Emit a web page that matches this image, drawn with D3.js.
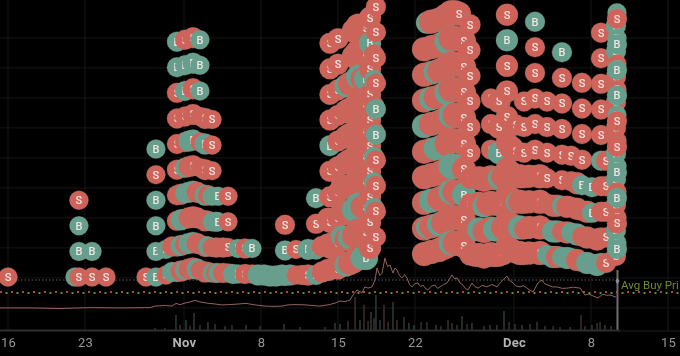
<!doctype html>
<html lang="en">
<head>
<meta charset="utf-8">
<title></title>
<script src="https://d3js.org/d3.v7.min.js"></script>
<style type="text/css">
  html, body { margin:0; padding:0; background:#000; overflow:hidden; }
  svg { display:block; filter:blur(0.35px); }
  text { font-family:Roboto, "Liberation Sans", sans-serif; }
  .axis path, .axis line { display:none; }
  .axis text { font-size:13px; fill:#969696; letter-spacing:0.3px; }
  .axis text.month { font-weight:700; fill:#b4b4b4; }
</style>
</head>
<body>
<script type="text/javascript">

  var width = 680, height = 356;

  // days counted from Oct 16
  var tickDays   = [0, 7, 16, 23, 30, 37, 46, 53, 60];
  var tickLabels = ["16", "23", "Nov", "8", "15", "22", "Dec", "8", "15"];
  var gridLevels = [97.7, 87.7, 77.7, 67.7, 57.7, 47.7, 37.7, 27.7, 17.7, 7.7];

  var avgBuyLevel = 17;
  var avgSellLevel = 13;
  var lastDay = 55.36;

  var priceDays = [-0.73,2,4.73,7.45,10.18,12.91,13.36,14.27,14.91,15.27,15.64,16.09,16.55,17,17.45,18.09,18.82,19.45,20.18,20.91,21.64,22.45,23.36,24.27,24.91,25.45,26.09,27,28.36,29.09,
    29.73,30.18,30.64,31.09,31.36,31.73,32.18,32.45,32.73,33.09,33.36,33.55,33.8,34,34.27,34.5,34.73,35,35.18,35.36,
    35.6,35.82,36.05,36.27,36.5,36.73,37,37.27,37.5,37.73,37.95,38.18,38.5,38.82,39.05,39.27,39.6,39.91,40.36,40.6,
    40.82,41.1,41.36,41.6,41.82,42.18,42.45,42.73,43.1,43.55,44,44.45,44.7,45,45.36,45.6,45.82,46.2,46.55,46.85,
    47.18,47.45,47.73,48.18,48.55,48.8,49.09,49.5,49.91,50.4,50.82,51.4,52,52.45,52.8,53.18,53.64,54.09,54.4,54.73,55.27];
  var priceValues = [7.7,7.7,7.5,7.8,7.7,7.8,8.3,8.5,8.3,9.2,8.8,9.3,9.7,10.2,9.7,9.3,9,8.7,8.8,9,9.2,8.7,8.3,8.2,8.3,8.7,8.8,8.7,8.3,8.7,
    9.3,10,9.8,10.3,12,13.7,12.7,14.7,14.3,14.7,17,21,18.5,19.3,24.3,21.5,22,19.3,21,20.3,
    18.5,17.7,18.8,17.7,15.5,14.7,15.8,16,14.8,15.3,14.2,13.7,15,15.3,14.2,14.7,15.5,16,18.7,17.4,
    17.7,16,15.3,14.1,13.7,16,14.8,14.3,15.2,14.7,15.5,14.7,15.8,17,18.3,16.8,16.3,15,14.7,15.1,
    14.3,13.6,13,16,17,15.7,15.3,14.7,14.7,14.2,14.3,14.6,14.3,12,12.3,11.7,11,12.3,11.9,12,11.3];

  var volumeDays = [13.36,14.27,15.27,15.64,16.18,16.55,16.91,17.45,18.18,18.82,19.73,20.36,21.64,22.91,25.09,26.55,28.82,29.73,30.18,30.91,31.55,32,32.36,32.73,33,33.27,33.45,33.82,34.18,34.55,35,35.36,36,36.45,36.91,37.55,38.09,38.91,39.36,40,40.36,40.82,41.27,41.73,42.18,43.27,43.82,44.45,45.09,45.55,46.09,46.73,47.45,48.09,48.82,49.55,50.18,51.09,52.09,52.45,53.09,53.55,53.82,54.27,54.82,55.36];
  var volumeValues = [3,3,16,6,11,5,18,6,9,7,5,6,6,5,7,4,4,8,7,10,34,11,26,10,19,13,36,11,26,9,29,11,14,8,6,9,9,6,5,11,8,6,15,7,8,5,6,6,20,9,7,6,7,9,5,5,4,4,16,5,6,8,9,6,5,61];
  var volumeSides = "ddududududududuuduuddudduduuddudduudduddududuuddudduddudduddudduuu";

  // one stack of markers per column, bottom to top
  var stackDays = [0,6.09,6.45,7.64,8.91,12.55,13.45,14.36,14.91,15.36,
    15.73,16.09,16.45,16.82,17.18,17.45,17.91,18.18,18.55,18.91,
    19.09,19.55,20,20.45,20.91,21.55,22.18,22.73,23.27,23.82,
    24.36,24.91,25.18,25.64,26.18,26.73,27.27,28,28.55,29.09,
    29.27,29.64,30,30.36,30.73,31.09,31.45,31.82,32.18,32.55,
    32.91,33.27,33.45,
    37.82,38.09,38.45,38.82,39.18,39.55,39.91,40.27,40.64,41,
    41.45,42,42.45,42.82,43.27,43.64,43.91,44.27,44.64,45,
    45.36,45.73,46.18,46.55,46.91,47.36,47.91,48.36,49,49.55,
    49.91,50.36,50.82,51.18,51.73,52.18,52.64,53.09,53.55,53.91,
    54.36,55.27,55.36,55.36];
  var stackBases = [18,18,18,18,18,18,18,18.67,19.67,19.67,
    20,20.33,20.67,21,20.67,20.33,19.67,19.67,19.33,19.33,
    19.33,19.33,19.33,19,19,19,19,18.67,18.67,18.33,
    18.33,18.67,18.33,18.67,18.67,18.67,18.67,18.67,19.67,20.33,
    27.67,21,20.67,23,22,22.67,23.33,25,24.33,24.33,
    27.67,41,31.33,
    25.67,26,26.33,26.67,27,27.67,28.33,29.33,29.33,29,
    28.33,25.33,25.33,25.33,24.67,25.33,26.33,25.33,25.33,26,
    28.67,27,26,26,25.33,26,26.33,26,25.33,24.67,
    24.67,24.67,24.33,24.33,23.67,23,22.67,22.33,22,22.67,
    22.67,25,29.33,27.33];
  var stackSizes = [9.5,9.5,9.5,9.5,9.5,9.5,9.5,9.5,10,10,
    10.5,10,10.5,10.5,10.5,9.5,10.5,10,9.5,10,
    9.5,10,9.5,10,9.5,10,9.5,10.5,10.5,10.5,
    10.5,10.5,10,10.5,9.5,10,10.5,10,10.5,11,
    10.5,11,10.5,11,11.5,12,12,12,11.5,12,
    11,10,10,
    12,11,12,11.5,12,12,12.5,12.5,12.5,12,
    12,10.5,11.5,12,11.5,12,10,12,11.5,12,
    11,12,10.5,12,10,11.5,10,12,10,11,
    11,10,11,10,11,10,11,10,11,10,
    10,10,9.5,10];
  var stackSides = ["S","B","SBBS","SB","S","S","BBBBSB","SB","BS","BSSSSSSSBB",
    "SBBS","BSBBBSSBBS","SBSBSB","SBSBSBSSBS","BSSS","SSSSSSSBBB","SSSBSBS","SBSS","BSBBSSS","SSB",
    "BSBB","SS","SSSS","B","BB","SS","SB","B","B","B",
    "B","B","BBS","B","SS","S","SB","BBSB","SS","SSS",
    "SSSSBSSSS","SS","SSSSSSSSSS","SBSS","BSSSSSSB","SBSSSSSS","SSBSSSSSSS","SSBSSSSBSS","BSSSSSSS","BSSSSSSBSS",
    "SSSSSSSSBS","BBBSSBS","SSSSBBSSSS",
    "SSSSSBSSS","SBSSSBSSSB","SSBSSSBSSS","SSBSBSSBSS","SBSSBSSSSS","SSSSBSSSSS","SSSSSSBSBS","BSBBSBSSSS","SSSBSSSSSS","SSSBSSSSSS",
    "SSBSSSSSS","SSSSSSSSSS","SS","SBSS","SSBS","SSSS","SSSSSSS","SBSS","SBSBBSS","SSSS",
    "SSSSSSSSBS","SSSSS","SSBSSS","SBSS","SSSSSSS","SSSS","SSSSSSSSSB","SSSS","BSSSSSS","BBS",
    "SBS","BSBSSSSSB","BSS","BBSSS","SBSS","SSSBSSSS","BSS","BSBB","BS","BSSSBSSSSS",
    "SSSSS","SBSBBSSSBB","BSSBSBSSBB","BSBBSSBBBS"];
  var stackStep = 8.53;

  var red = "#cf6259", green = "#669f8d";

  var xScale = d3.scaleLinear().domain([0,60]).range([8,668]);
  var yScale = d3.scaleLinear().domain([0,110]).range([331,1]);
  var volScale = d3.scaleLinear().domain([0,100]).range([331,231]);

  var svg = d3.select("body")
    .append("svg")
    .attr("width", width)
    .attr("height", height)
    .style("background", "#000");

  // grid
  svg.selectAll(".vgrid")
    .data(tickDays)
    .enter()
    .append("line")
    .attr("x1", d=>xScale(d)).attr("x2", d=>xScale(d))
    .attr("y1", 0).attr("y2", 331)
    .style("stroke", "#161616");

  svg.selectAll(".hgrid")
    .data(gridLevels)
    .enter()
    .append("line")
    .attr("x1", 0).attr("x2", width)
    .attr("y1", d=>yScale(d)).attr("y2", d=>yScale(d))
    .style("stroke", "#161616");

  // volume
  svg.selectAll(".vol")
    .data(volumeDays)
    .enter()
    .append("rect")
    .attr("x", d=>xScale(d)-0.5)
    .attr("width", (d,i)=> i==volumeDays.length-1 ? 2 : 1)
    .attr("y", (d,i)=>volScale(volumeValues[i]))
    .attr("height", (d,i)=>331-volScale(volumeValues[i]))
    .style("fill", (d,i)=> i==volumeDays.length-1 ? "#6e6e6e" : volumeSides[i]=="u" ? "#3f5c53" : "#5f4543");

  svg.append("rect")
    .attr("x", 0).attr("y", 329.5).attr("width", 620).attr("height", 2)
    .style("fill", "#2e2e2e");
  svg.append("line")
    .attr("x1", 620).attr("x2", width).attr("y1", 331).attr("y2", 331)
    .style("stroke", "#1e1e1e");

  // avg lines
  svg.append("line")
    .attr("x1", 0).attr("x2", xScale(lastDay))
    .attr("y1", yScale(avgBuyLevel)).attr("y2", yScale(avgBuyLevel))
    .style("stroke", "#5e5e5e").style("stroke-dasharray", "1.5 2");
  svg.append("line")
    .attr("x1", 0).attr("x2", width)
    .attr("y1", yScale(avgSellLevel)).attr("y2", yScale(avgSellLevel))
    .style("stroke", "#a84a42").style("stroke-width", 2).style("stroke-dasharray", "2 9");
  svg.append("line")
    .attr("x1", 0).attr("x2", width)
    .attr("y1", yScale(avgSellLevel)+1).attr("y2", yScale(avgSellLevel)+1)
    .style("stroke", "#6d8a34").style("stroke-width", 2).style("stroke-dasharray", "2 9").style("stroke-dashoffset", -5.5);

  // price
  var line = d3.line()
    .x(d=>xScale(d))
    .y((d,i)=>yScale(priceValues[i]));

  svg.append("path")
    .attr("d", line(priceDays))
    .style("fill", "none")
    .style("stroke", "#a56c69")
    .style("stroke-width", 0.9);

  // markers
  var markers = stackDays.flatMap((day,i)=>
    stackSides[i].split("").map((side,k)=>({
      day:day,
      level:stackBases[i]+k*stackStep,
      size:stackSizes[i],
      side:side
    })));

  var marker = svg.selectAll(".marker")
    .data(markers)
    .enter()
    .append("g")
    .attr("class", "marker")
    .attr("transform", d=>"translate("+xScale(d.day)+","+yScale(d.level)+")");

  marker.append("circle")
    .attr("r", d=>d.size)
    .style("fill", d=>d.side=="S" ? red : green)
    .style("stroke", "#8d8d7c")
    .style("stroke-opacity", 0.3)
    .style("stroke-width", 0.8);

  marker.append("text")
    .attr("text-anchor", "middle")
    .attr("dy", "0.36em")
    .style("font-size", "11px")
    .style("font-weight", 500)
    .style("fill", "#f3e6e0")
    .text(d=>d.side);

  // end marker and label
  svg.append("path")
    .attr("d", d3.symbol().type(d3.symbolDiamond).size(14)())
    .attr("transform", "translate("+(xScale(lastDay)+0.5)+","+(yScale(avgBuyLevel)+1)+")")
    .style("fill", "#8a8a8a");

  svg.append("text")
    .attr("x", xScale(lastDay)+4)
    .attr("y", yScale(avgBuyLevel)+9)
    .style("font-size", "11.5px")
    .style("fill", "#6f8a2f")
    .text("Avg Buy Pri");

  // axis
  var xAxis = d3.axisBottom(xScale)
    .tickValues(tickDays)
    .tickSize(0)
    .tickPadding(7)
    .tickFormat((d,i)=>tickLabels[i]);

  var axisG = svg.append("g")
    .attr("class", "axis")
    .attr("transform", "translate(0,331)")
    .call(xAxis);
  axisG.selectAll("text")
    .attr("class", (d,i)=> /[A-Z]/.test(tickLabels[i]) ? "month" : null)
    .attr("y", 7);

</script>
</body>
</html>
